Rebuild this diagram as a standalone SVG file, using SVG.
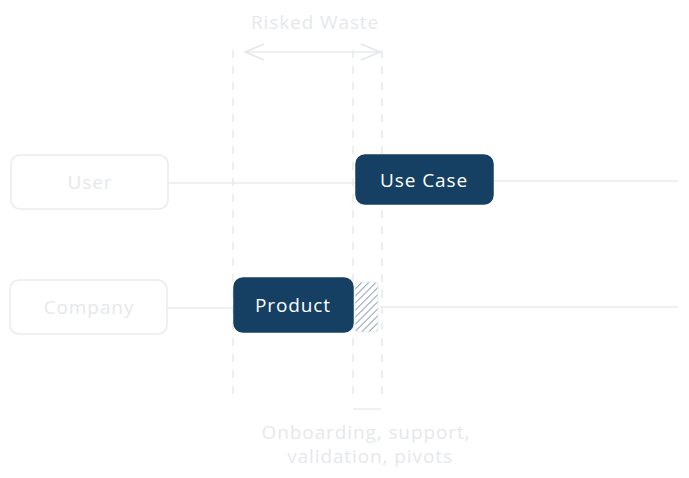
<svg xmlns="http://www.w3.org/2000/svg" width="689" height="478" viewBox="0 0 689 478">
<defs>
<style>
.lbl{font-family:"Open Sans","Noto Sans",sans-serif;font-size:19px;letter-spacing:0.9px;text-anchor:middle;dominant-baseline:central}
.faint{fill:#e6e8eb}
.white{fill:#ffffff}
.ghost{fill:none;stroke:#e9ecef;stroke-width:1.5}
.dark{fill:#154063;stroke:#154063;stroke-width:1.5}
.dash{stroke:#e4e6e8;stroke-width:1.3;stroke-dasharray:8 8;fill:none}
.conn{stroke:#e9ecef;stroke-width:1.5;fill:none}
</style>
<pattern id="hatch" patternUnits="userSpaceOnUse" width="5" height="5" patternTransform="rotate(45)">
<line x1="0" y1="0" x2="0" y2="5" stroke="#6f8aa4" stroke-width="1.6"/>
</pattern>
<marker id="open" viewBox="0 0 20 20" refX="19" refY="10" markerWidth="20" markerHeight="20" markerUnits="userSpaceOnUse" orient="auto-start-reverse">
<path d="M0,2 L19,10 L0,18" fill="none" stroke="#e4e6e8" stroke-width="1.5"/>
</marker>
</defs>
<g id="guides">
<line class="dash" x1="233" y1="50" x2="233" y2="398"/>
<line class="dash" x1="353" y1="50" x2="353" y2="398"/>
<line class="dash" x1="382" y1="50" x2="382" y2="398"/>
</g>
<g id="connectors">
<line class="conn" x1="245" y1="52" x2="380" y2="52" marker-start="url(#open)" marker-end="url(#open)"/>
<line class="conn" x1="168" y1="183" x2="356" y2="183"/>
<line class="conn" x1="493" y1="181" x2="678" y2="181"/>
<line class="conn" x1="167" y1="308" x2="233" y2="308"/>
<line class="conn" x1="380" y1="307" x2="678" y2="307"/>
<line class="conn" x1="353" y1="409" x2="381" y2="409"/>
</g>
<g id="risked-waste">
<text class="lbl faint" x="315" y="22">Risked Waste</text>
</g>
<g id="user">
<rect class="ghost" x="11" y="155" width="157" height="54" rx="9"/>
<text class="lbl faint" x="90" y="182">User</text>
</g>
<g id="use-case">
<rect class="dark" x="356" y="155" width="137" height="49" rx="9"/>
<text class="lbl white" x="424" y="180">Use Case</text>
</g>
<g id="company">
<rect class="ghost" x="10" y="280" width="157" height="54" rx="9"/>
<text class="lbl faint" x="89" y="307">Company</text>
</g>
<g id="product">
<rect class="dark" x="234" y="278" width="119" height="54" rx="9"/>
<text class="lbl white" x="293" y="305">Product</text>
</g>
<g id="waste-block">
<rect x="355" y="282" width="23" height="50" rx="3" fill="url(#hatch)" stroke="#e9ecef" stroke-width="1"/>
</g>
<g id="note">
<text class="lbl faint" x="366" y="432">Onboarding, support,</text>
<text class="lbl faint" x="370" y="456">validation, pivots</text>
</g>
</svg>
